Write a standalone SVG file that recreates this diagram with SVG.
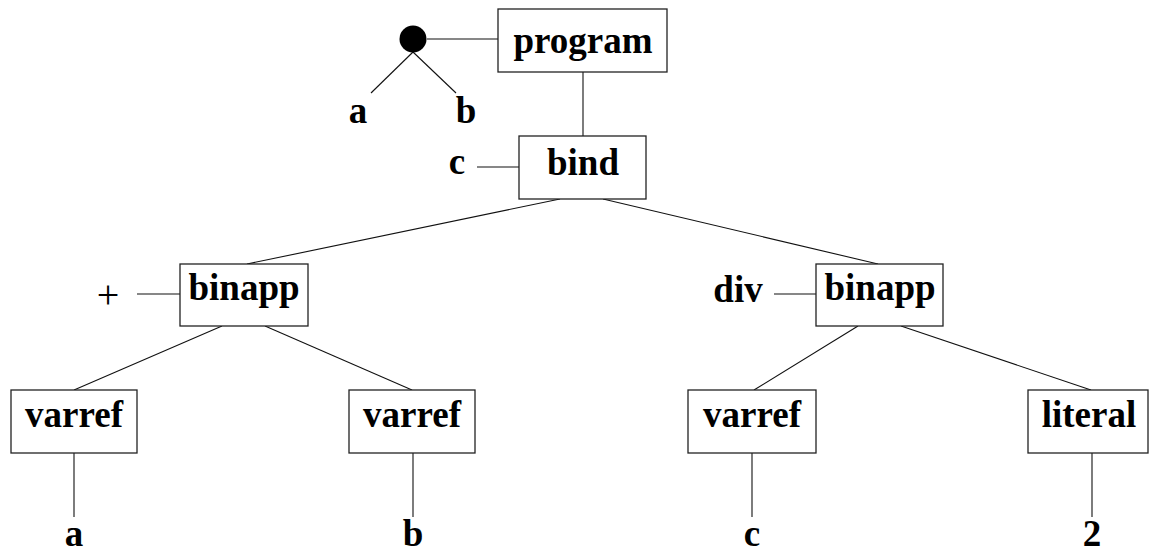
<svg xmlns="http://www.w3.org/2000/svg" width="1150" height="552" viewBox="0 0 1150 552">
  <style>
    .box { fill: #fff; stroke: #222; stroke-width: 1.3; }
    .lbl { font-family: "Liberation Serif", "Times New Roman", serif; font-weight: bold; font-size: 37px; fill: #000; text-anchor: middle; }
    .plain { font-family: "Liberation Serif", "Times New Roman", serif; font-size: 40px; fill: #000; text-anchor: middle; }
    .edge { stroke: #111; stroke-width: 1.1; fill: none; }
  </style>
  <rect width="1150" height="552" fill="#fff"/>

  <!-- tree edges -->
  <g id="connectors">
    <line class="edge" x1="427" y1="39" x2="498" y2="39"/>
    <line class="edge" x1="413" y1="52" x2="371" y2="93"/>
    <line class="edge" x1="413" y1="52" x2="456" y2="93"/>
    <line class="edge" x1="583" y1="72" x2="583" y2="136"/>
    <line class="edge" x1="477" y1="167" x2="519" y2="167"/>
    <line class="edge" x1="560" y1="199" x2="247" y2="264"/>
    <line class="edge" x1="603" y1="199" x2="878" y2="264"/>
    <line class="edge" x1="137" y1="294" x2="180" y2="294"/>
    <line class="edge" x1="774" y1="294" x2="816" y2="294"/>
    <line class="edge" x1="222" y1="326" x2="74" y2="390"/>
    <line class="edge" x1="265" y1="326" x2="412" y2="390"/>
    <line class="edge" x1="858" y1="326" x2="754" y2="390"/>
    <line class="edge" x1="901" y1="326" x2="1091" y2="390"/>
    <line class="edge" x1="74" y1="453" x2="74" y2="517"/>
    <line class="edge" x1="413" y1="453" x2="413" y2="517"/>
    <line class="edge" x1="752" y1="453" x2="752" y2="517"/>
    <line class="edge" x1="1092" y1="453" x2="1092" y2="517"/>
  </g>

  <g id="tuple">
    <circle cx="413" cy="39" r="13.5" fill="#000"/>
    <text class="lbl" x="358" y="123">a</text>
    <text class="lbl" x="466" y="123">b</text>
  </g>

  <g id="program">
    <rect class="box" x="498" y="9" width="169" height="63"/>
    <text class="lbl" x="583" y="53">program</text>
  </g>

  <g id="bind">
    <rect class="box" x="519" y="136" width="127" height="63"/>
    <text class="lbl" x="583" y="175">bind</text>
    <text class="lbl" x="457" y="174">c</text>
  </g>

  <g id="binapp-plus">
    <rect class="box" x="180" y="264" width="128" height="62"/>
    <text class="lbl" x="244" y="300">binapp</text>
    <text class="plain" x="108" y="308">+</text>
  </g>

  <g id="binapp-div">
    <rect class="box" x="816" y="264" width="127" height="62"/>
    <text class="lbl" x="880" y="300">binapp</text>
    <text class="lbl" x="738" y="302">div</text>
  </g>

  <g id="varref-a">
    <rect class="box" x="11" y="390" width="126" height="63"/>
    <text class="lbl" x="74" y="427">varref</text>
    <text class="lbl" x="74" y="546">a</text>
  </g>

  <g id="varref-b">
    <rect class="box" x="349" y="390" width="126" height="63"/>
    <text class="lbl" x="412" y="427">varref</text>
    <text class="lbl" x="413" y="546">b</text>
  </g>

  <g id="varref-c">
    <rect class="box" x="688" y="390" width="128" height="63"/>
    <text class="lbl" x="752" y="427">varref</text>
    <text class="lbl" x="752" y="546">c</text>
  </g>

  <g id="literal">
    <rect class="box" x="1028" y="390" width="120" height="63"/>
    <text class="lbl" x="1089" y="427">literal</text>
    <text class="lbl" x="1092" y="546">2</text>
  </g>
</svg>
